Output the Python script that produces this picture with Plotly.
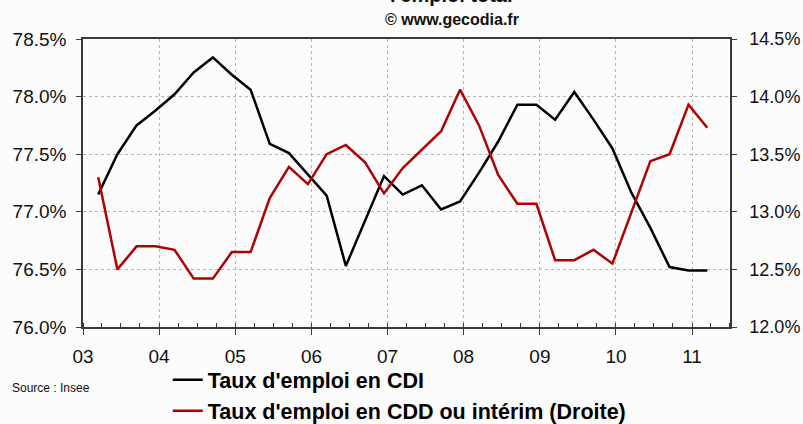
import pandas as pd
import plotly.graph_objects as go

# trimestres 2003T1 -> 2011T1
trimestres = pd.period_range("2003Q1", "2011Q1", freq="Q")

# Taux d'emploi en CDI (%), axe gauche
cdi = [77.15, 77.50, 77.75, 77.88, 78.02, 78.21, 78.34, 78.19, 78.06, 77.59,
       77.51, 77.32, 77.14, 76.53, 76.93, 77.31, 77.15, 77.23, 77.02, 77.09,
       77.34, 77.61, 77.93, 77.93, 77.80, 78.04, 77.80, 77.55, 77.17, 76.86,
       76.52, 76.49, 76.49]

# Taux d'emploi en CDD ou intérim (%), axe droit
cdd = [13.30, 12.50, 12.70, 12.70, 12.67, 12.42, 12.42, 12.65, 12.65, 13.12,
       13.39, 13.24, 13.50, 13.58, 13.43, 13.16, 13.38, 13.54, 13.70, 14.06,
       13.75, 13.32, 13.07, 13.07, 12.58, 12.58, 12.67, 12.55, 12.99, 13.44,
       13.50, 13.93, 13.73]

# points placés vers la mi-mars / mi-juin / ... de chaque trimestre
dates = trimestres.to_timestamp(how="start") + pd.DateOffset(months=2, days=14)

FONT = "Liberation Sans, Arial, sans-serif"
AXIS_COLOR = "#3a3a3a"
GRID_COLOR = "#b5b5b5"

fig = go.Figure()

fig.add_trace(go.Scatter(
    x=dates, y=cdi, mode="lines",
    line={"color": "#000000", "width": 2.5},
    name="<b>Taux d'emploi en CDI</b>",
))
fig.add_trace(go.Scatter(
    x=dates, y=cdd, mode="lines", yaxis="y2",
    line={"color": "#b00000", "width": 2.5},
    name="<b>Taux d'emploi en CDD ou intérim (Droite)</b>",
))

fig.update_layout(
    width=803, height=424,
    margin={"l": 83, "r": 73, "t": 39, "b": 97, "autoexpand": False},
    paper_bgcolor="#fcfcfc",
    plot_bgcolor="#fcfcfc",
    font={"family": FONT, "color": "#111111"},
    xaxis={
        "range": ["2003-01-01", "2011-07-02"],
        "dtick": "M12",
        "tick0": "2003-01-01",
        "tickformat": "%y",
        "tickfont": {"size": 19},
        "ticks": "outside", "ticklen": 6, "tickcolor": AXIS_COLOR,
        "ticklabelstandoff": 5,
        "showline": True, "linecolor": AXIS_COLOR, "linewidth": 1.5,
        "mirror": True,
        "showgrid": True, "gridcolor": GRID_COLOR, "griddash": "dot",
        "gridwidth": 1,
        "minor": {"dtick": "M3", "ticks": "inside", "ticklen": 4,
                  "tickcolor": AXIS_COLOR, "showgrid": False},
        "zeroline": False,
        "automargin": False,
    },
    yaxis={
        "range": [76.0, 78.5],
        "dtick": 0.5,
        "tickformat": ".1f",
        "ticksuffix": "%",
        "tickfont": {"size": 19},
        "ticks": "outside", "ticklen": 5, "tickcolor": AXIS_COLOR,
        "ticklabelstandoff": 6,
        "showline": True, "linecolor": AXIS_COLOR, "linewidth": 1.5,
        "showgrid": True, "gridcolor": GRID_COLOR, "griddash": "dot",
        "zeroline": False,
        "automargin": False,
    },
    yaxis2={
        "range": [12.0, 14.5],
        "dtick": 0.5,
        "tickformat": ".1f",
        "ticksuffix": "%",
        "tickfont": {"size": 18},
        "overlaying": "y", "side": "right",
        "ticks": "outside", "ticklen": 5, "tickcolor": AXIS_COLOR,
        "ticklabelstandoff": 9,
        "showline": True, "linecolor": AXIS_COLOR, "linewidth": 1.5,
        "showgrid": False, "zeroline": False,
        "automargin": False,
    },
    showlegend=True,
    legend={
        "x": 0.131, "y": -0.112, "xanchor": "left", "yanchor": "top",
        "orientation": "v",
        "font": {"size": 21.5, "family": FONT, "color": "#000000"},
        "bgcolor": "rgba(0,0,0,0)",
        "itemwidth": 30,
        "tracegroupgap": 0,
    },
    annotations=[
        # titre coupé en haut, comme sur l'original
        {"text": "<b>l'emploi total</b>", "xref": "paper", "yref": "paper",
         "x": 0.57, "y": 1.108, "xanchor": "center", "yanchor": "bottom",
         "showarrow": False, "font": {"size": 20, "family": FONT}},
        {"text": "<b>© www.gecodia.fr</b>", "xref": "paper", "yref": "paper",
         "x": 0.57, "y": 1.066, "xanchor": "center", "yanchor": "middle",
         "showarrow": False, "font": {"size": 16, "family": FONT}},
        {"text": "Source : Insee", "xref": "paper", "yref": "paper",
         "x": -0.113, "y": -0.212, "xanchor": "left", "yanchor": "middle",
         "showarrow": False, "font": {"size": 12, "family": FONT}},
    ],
)

# la page par défaut décale le graphique de 8 px (marge du body)
fig.write_html(
    "out.html",
    config={"displayModeBar": False},
    post_script="document.body.style.margin='0';",
)
